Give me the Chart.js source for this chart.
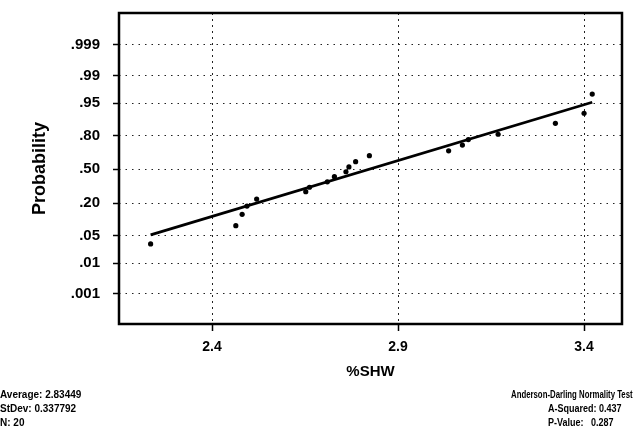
<!DOCTYPE html>
<html>
<head>
<meta charset="utf-8">
<script src="https://cdn.jsdelivr.net/npm/chart.js@4/dist/chart.umd.min.js"></script>
<style>
  body { margin: 0; background: #fff; }
  canvas { display: block; }
</style>
</head>
<body>
<canvas id="probChart" width="634" height="439"></canvas>
<script>
// probability axis ticks
const probTicks = [0.001, 0.01, 0.05, 0.20, 0.50, 0.80, 0.95, 0.99, 0.999];
const probLabels = ['.001', '.01', '.05', '.20', '.50', '.80', '.95', '.99', '.999'];
const xTicks = [2.4, 2.9, 3.4];

// data points (%SHW vs plotted probability)
const shw = [2.235, 2.464, 2.481, 2.494, 2.520, 2.652, 2.662, 2.710, 2.729, 2.760,
             2.768, 2.786, 2.823, 3.036, 3.073, 3.089, 3.169, 3.323, 3.400, 3.422];
const prob = [0.032, 0.081, 0.132, 0.181, 0.230, 0.289, 0.328, 0.378, 0.427, 0.476,
              0.524, 0.575, 0.632, 0.677, 0.726, 0.770, 0.808, 0.873, 0.918, 0.969];

// fitted line end points
const fitX = [2.235, 3.422];
const fitProb = [0.052, 0.952];

const statsLeft = ['Average: 2.83449', 'StDev: 0.337792', 'N: 20'];
const statsRight = ['Anderson-Darling Normality Test', 'A-Squared: 0.437', 'P-Value:   0.287'];

// inverse normal cdf (Acklam)
function probit(p) {
    const a = [-3.969683028665376e+01, 2.209460984245205e+02, -2.759285104469687e+02, 1.383577518672690e+02, -3.066479806614716e+01, 2.506628277459239e+00];
    const b = [-5.447609879822406e+01, 1.615858368580409e+02, -1.556989798598866e+02, 6.680131188771972e+01, -1.328068155288572e+01];
    const c = [-7.784894002430293e-03, -3.223964580411365e-01, -2.400758277161838e+00, -2.549732539343734e+00, 4.374664141464968e+00, 2.938163982698783e+00];
    const d = [7.784695709041462e-03, 3.224671290700398e-01, 2.445134137142996e+00, 3.754408661907416e+00];
    const pl = 0.02425;
    let q, r;
    if (p < pl) {
        q = Math.sqrt(-2 * Math.log(p));
        return (((((c[0] * q + c[1]) * q + c[2]) * q + c[3]) * q + c[4]) * q + c[5]) / ((((d[0] * q + d[1]) * q + d[2]) * q + d[3]) * q + 1);
    }
    if (p > 1 - pl) {
        q = Math.sqrt(-2 * Math.log(1 - p));
        return -(((((c[0] * q + c[1]) * q + c[2]) * q + c[3]) * q + c[4]) * q + c[5]) / ((((d[0] * q + d[1]) * q + d[2]) * q + d[3]) * q + 1);
    }
    q = p - 0.5;
    r = q * q;
    return (((((a[0] * r + a[1]) * r + a[2]) * r + a[3]) * r + a[4]) * r + a[5]) * q / (((((b[0] * r + b[1]) * r + b[2]) * r + b[3]) * r + b[4]) * r + 1);
}

const FONT = '"Liberation Sans", Arial, sans-serif';

const framePlugin = {
    id: 'frame',
    afterDatasetsDraw: function (chart) {
        const a = chart.chartArea;
        const ctx = chart.ctx;
        ctx.save();
        ctx.strokeStyle = '#000';
        ctx.lineWidth = 2.5;
        ctx.strokeRect(a.left, a.top, a.right - a.left, a.bottom - a.top);
        ctx.restore();
    }
};

const statsPlugin = {
    id: 'stats',
    afterDraw: function (chart) {
        const ctx = chart.ctx;
        ctx.save();
        ctx.fillStyle = '#000';
        ctx.font = 'bold 10px ' + FONT;
        ctx.textBaseline = 'middle';
        statsLeft.forEach(function (t, i) {
            ctx.fillText(t, 0, 395 + i * 14);
        });
        statsRight.forEach(function (t, i) {
            const x = i === 0 ? 511 : 548;
            ctx.save();
            ctx.translate(x, 395 + i * 14);
            ctx.scale(i === 0 ? 0.78 : 0.9, 1);
            ctx.fillText(t, 0, 0);
            ctx.restore();
        });
        ctx.restore();
    }
};

const ctx = document.getElementById('probChart').getContext('2d');
new Chart(ctx, {
    type: 'scatter',
    data: {
        datasets: [{
            label: 'Fit',
            data: fitX.map(function (x, i) { return { x: x, y: probit(fitProb[i]) }; }),
            showLine: true,
            borderColor: '#000',
            borderWidth: 2.8,
            pointRadius: 0,
            order: 2
        }, {
            label: '%SHW',
            data: shw.map(function (x, i) { return { x: x, y: probit(prob[i]) }; }),
            backgroundColor: '#000',
            borderColor: '#000',
            borderWidth: 0,
            pointRadius: 2.6,
            order: 1
        }]
    },
    options: {
        responsive: false,
        animation: false,
        layout: { padding: { left: 0, right: 12, top: 13, bottom: 55 } },
        plugins: {
            legend: { display: false },
            tooltip: { enabled: false }
        },
        scales: {
            x: {
                type: 'linear',
                min: 2.15,
                max: 3.502,
                afterBuildTicks: function (scale) {
                    scale.ticks = xTicks.map(function (v) { return { value: v }; });
                },
                afterFit: function (scale) {
                    scale.height = 60;
                    scale.paddingLeft = 0;
                    scale.paddingRight = 0;
                },
                grid: {
                    color: '#222',
                    lineWidth: 1,
                    borderDash: [2, 4],
                    tickLength: 7,
                    tickColor: '#000',
                    tickWidth: 1.5,
                    tickBorderDash: []
                },
                border: { display: false, dash: [2, 4] },
                ticks: {
                    color: '#000',
                    padding: 8,
                    maxRotation: 0,
                    autoSkip: false,
                    font: { family: FONT, size: 14, weight: 'bold' },
                    callback: function (v) { return v.toFixed(1); }
                },
                title: {
                    display: true,
                    text: '%SHW',
                    color: '#000',
                    padding: { top: 0, bottom: 3 },
                    font: { family: FONT, size: 15, weight: 'bold' }
                }
            },
            y: {
                type: 'linear',
                min: -3.84,
                max: 3.88,
                afterBuildTicks: function (scale) {
                    scale.ticks = probTicks.map(function (p) { return { value: probit(p) }; });
                },
                afterFit: function (scale) {
                    scale.width = 119;
                    scale.paddingTop = 0;
                    scale.paddingBottom = 0;
                },
                grid: {
                    color: '#222',
                    lineWidth: 1,
                    borderDash: [1.5, 5],
                    tickLength: 6,
                    tickColor: '#000',
                    tickWidth: 1.5,
                    tickBorderDash: []
                },
                border: { display: false, dash: [1.5, 5] },
                ticks: {
                    color: '#000',
                    padding: 13,
                    autoSkip: false,
                    font: { family: FONT, size: 15, weight: 'bold' },
                    callback: function (v, i) { return probLabels[i]; }
                },
                title: {
                    display: true,
                    text: 'Probability',
                    color: '#000',
                    padding: { top: 29, bottom: 0 },
                    font: { family: FONT, size: 18, weight: 'bold' }
                }
            }
        }
    },
    plugins: [framePlugin, statsPlugin]
});
</script>
</body>
</html>
